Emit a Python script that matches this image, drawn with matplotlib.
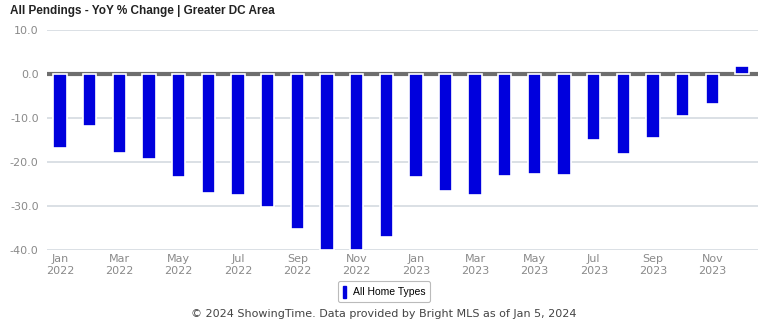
import matplotlib.pyplot as plt
from matplotlib.patches import Patch

months = ["Jan", "Feb", "Mar", "Apr", "May", "Jun",
          "Jul", "Aug", "Sep", "Oct", "Nov", "Dec"]
years = ["2022", "2023"]
labels = [f"{m}\n{y}" for y in years for m in months]

yoy_change = [-16.8, -11.8, -18.0, -19.4, -23.4, -27.1,
              -27.6, -30.3, -35.2, -40.0, -40.0, -37.0,
              -23.4, -26.6, -27.4, -23.2, -22.8, -23.0,
              -15.0, -18.2, -14.5, -9.6, -6.9, 1.9]

bar_color = "#0000DD"
grid_color = "#D8DDE3"
tick_color = "#8A8A8A"

fig = plt.figure(figsize=(7.68, 3.23), dpi=100)
ax = fig.add_axes([0.0612, 0.226, 0.9258, 0.681])

x = list(range(len(yoy_change)))
ax.axhline(0, color="#6E6E6E", linewidth=3, zorder=2)
ax.bar(x, yoy_change, width=0.45, color=bar_color,
       edgecolor="white", linewidth=1.2, zorder=3)

ax.set_ylim(-40, 10)
ax.set_xlim(-0.44, 23.54)
ax.set_yticks([10, 0, -10, -20, -30, -40])
ax.set_yticklabels([f"{v:.1f}" for v in [10, 0, -10, -20, -30, -40]])
ax.set_xticks(x[::2])
ax.set_xticklabels(labels[::2])
ax.grid(axis="y", color=grid_color, linewidth=1.3, zorder=0)
ax.set_axisbelow(True)

for side in ["top", "right", "left", "bottom"]:
    ax.spines[side].set_visible(False)
ax.tick_params(axis="both", length=0, colors=tick_color, labelsize=8)
ax.tick_params(axis="y", pad=6)
ax.tick_params(axis="x", pad=3)

fig.text(0.013, 0.965, "All Pendings - YoY % Change | Greater DC Area",
         fontsize=8.5, fontweight="bold", family="Liberation Sans",
         color="#222222", va="center", ha="left")

handle = Patch(facecolor=bar_color, edgecolor=bar_color)
leg = fig.legend([handle], ["All Home Types"], loc="center",
                 bbox_to_anchor=(0.5, 0.097),
                 prop={"family": "Liberation Sans", "size": 7.5},
                 handlelength=0.35, handleheight=1.4, handletextpad=0.6,
                 frameon=True, fancybox=True, borderpad=0.45)
leg.get_frame().set_edgecolor("#AAAAAA")
leg.get_frame().set_linewidth(0.8)

fig.text(0.5, 0.028, "© 2024 ShowingTime. Data provided by Bright MLS as of Jan 5, 2024",
         fontsize=8, color="#444444", ha="center", va="center")

fig.savefig("out.png", dpi=100)
